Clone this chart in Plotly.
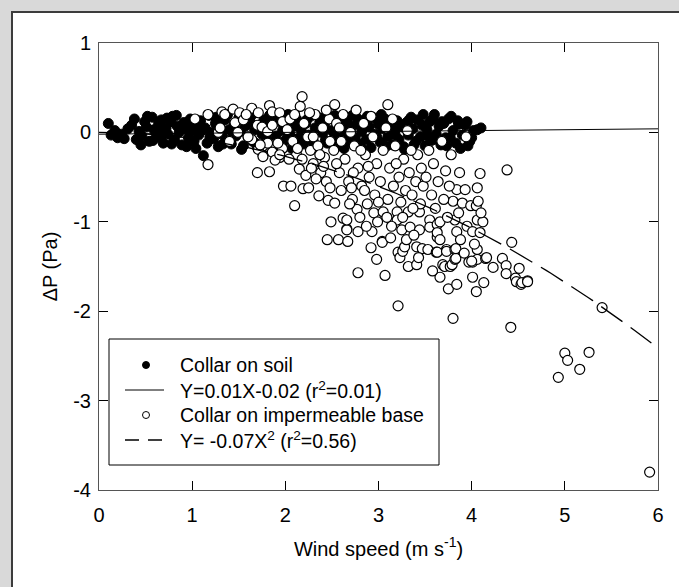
import plotly.graph_objects as go

# ---------------- data ----------------
soil_x = [0.10,0.13,0.17,0.20,0.24,0.27,0.31,0.35,0.38,0.40,0.43,0.46,0.49,0.51,0.54,0.57,0.59,0.62,0.64,0.67,
          0.69,0.72,0.74,0.77,0.79,0.81,0.84,0.86,0.89,0.91,0.93,0.96,0.98,1.00,1.02,1.05,1.07,1.09,1.12,1.14,
          1.16,1.18,1.21,1.23,1.25,1.28,1.30,1.32,1.35,1.37,1.40,1.42,1.45,1.47,1.50,1.52,1.55,1.57,1.60,1.62,
          1.65,1.67,1.70,1.72,1.75,1.77,1.80,1.82,1.85,1.87,1.90,1.92,1.95,1.97,2.00,2.02,2.05,2.07,2.10,2.12,
          2.15,2.17,2.20,2.22,2.25,2.27,2.30,2.32,2.35,2.37,2.40,2.42,2.45,2.47,2.50,2.52,2.55,2.57,2.60,2.62,
          2.65,2.67,2.70,2.72,2.75,2.77,2.80,2.82,2.85,2.87,2.90,2.92,2.95,2.97,3.00,3.02,3.05,3.07,3.10,3.12,
          3.15,3.17,3.20,3.22,3.25,3.27,3.30,3.32,3.35,3.37,3.40,3.42,3.45,3.47,3.50,3.52,3.55,3.57,3.60,3.62,
          3.65,3.67,3.70,3.72,3.75,3.77,3.80,3.83,3.86,3.90,3.93,3.96,3.98,4.02,4.06,4.10,
          0.45,0.52,0.58,0.63,0.68,0.73,0.78,0.83,0.88,0.94,0.99,1.04,1.10,1.19,1.26,1.33,1.38,1.44,1.53,1.58,
          1.63,1.68,1.78,1.83,1.88,1.98,2.03,2.08,2.13,2.18,2.23,2.28,2.38,2.43,2.53,2.58,2.63,2.68,2.78,2.83,
          2.88,2.98,3.03,3.08,3.13,3.18,3.28,3.33,3.38,3.48,3.53,3.58,3.63,3.68,3.73,3.78,3.85,3.88,3.95,4.00]
soil_y = [0.10,-0.03,0.02,-0.06,-0.02,-0.07,0.04,0.08,0.15,-0.08,0.01,-0.04,0.12,0.06,-0.10,0.17,0.03,-0.05,0.10,0.14,
          -0.12,0.05,-0.02,0.12,0.18,-0.08,0.07,0.00,-0.14,0.11,0.04,-0.06,0.15,0.02,-0.10,0.08,-0.03,0.13,-0.26,0.05,
          -0.12,0.19,0.00,-0.07,0.10,-0.16,0.06,-0.02,0.14,-0.09,0.03,-0.13,0.09,-0.04,0.16,0.01,-0.15,0.07,-0.05,0.12,
          -0.10,0.03,-0.17,0.08,-0.02,0.14,-0.08,0.05,-0.12,0.10,-0.04,0.17,-0.15,0.02,-0.09,0.12,-0.02,-0.18,0.07,0.15,
          -0.06,0.03,-0.13,0.10,-0.03,0.18,-0.10,0.05,-0.16,0.12,-0.01,0.08,-0.12,0.16,0.02,-0.07,0.11,-0.15,0.06,-0.03,
          0.14,-0.10,0.03,0.19,-0.06,0.09,-0.13,0.01,0.13,-0.08,0.06,-0.17,0.16,-0.02,0.09,-0.11,0.04,0.15,-0.05,0.10,
          -0.14,0.02,0.13,-0.08,0.06,-0.16,0.11,-0.03,0.17,0.04,-0.10,0.14,-0.05,0.08,-0.15,0.03,0.12,-0.09,0.20,-0.02,
          0.07,-0.14,0.10,-0.06,0.15,-0.06,0.02,-0.12,0.09,-0.03,0.08,-0.15,-0.10,0.02,0.03,0.05,
          -0.14,0.18,-0.09,0.05,-0.02,0.16,-0.13,0.19,0.05,-0.16,0.10,-0.18,0.02,-0.05,0.17,-0.13,0.20,-0.01,-0.19,0.13,
          0.18,-0.12,0.04,0.19,-0.16,0.08,0.20,-0.07,-0.14,0.09,0.14,-0.19,0.16,-0.09,0.19,-0.02,-0.18,0.09,0.15,-0.19,
          0.18,-0.05,0.20,-0.16,0.07,-0.03,-0.19,0.14,-0.14,0.20,-0.04,0.15,-0.08,0.12,-0.15,0.18,0.13,-0.18,0.12,-0.06]

base_x = [1.03,1.17,1.17,1.28,1.30,1.32,1.35,1.44,1.46,1.49,1.51,1.40,
          1.55,1.64,1.64,1.70,1.71,1.75,1.81,1.83,1.86,1.86,1.94,1.97,1.70,1.83,1.98,1.76,1.76,1.87,1.97,1.94,1.71,1.76,
          1.86,1.89,1.94,1.92,1.81,1.73,1.60,1.58,
          2.02,2.06,2.10,2.15,2.16,2.18,2.19,2.22,2.25,2.36,2.46,2.49,2.45,2.05,2.08,2.12,2.20,2.24,2.27,2.30,2.32,2.35,
          2.38,2.40,2.42,2.44,2.47,2.48,2.04,2.13,2.26,2.30,2.33,2.41,2.44,2.10,2.18,2.28,2.37,2.48,
          2.53,2.53,2.57,2.62,2.66,2.67,2.66,2.78,2.93,2.66,2.77,2.78,2.92,2.98,2.52,2.55,2.58,2.60,2.62,2.64,2.68,2.70,
          2.72,2.74,2.76,2.78,2.80,2.82,2.84,2.86,2.88,2.90,2.92,2.94,2.96,2.98,2.55,2.60,2.69,2.73,2.81,2.85,2.89,2.95,
          2.99,2.58,2.87,2.71,
          3.04,3.04,3.05,3.07,3.10,3.20,3.20,3.21,3.21,3.23,3.25,3.26,3.28,3.30,3.32,3.32,3.34,3.41,3.41,3.44,3.44,3.02,
          3.05,3.08,3.10,3.12,3.14,3.16,3.18,3.22,3.24,3.27,3.29,3.31,3.33,3.36,3.38,3.40,3.42,3.45,3.47,3.48,3.00,3.13,
          3.19,3.26,3.35,3.43,3.09,3.37,3.46,3.15,
          3.53,3.55,3.55,3.62,3.63,3.63,3.63,3.63,3.66,3.66,3.66,3.69,3.71,3.72,3.73,3.73,3.75,3.77,3.79,3.80,3.80,3.82,
          3.82,3.82,3.83,3.83,3.84,3.84,3.84,3.90,3.93,3.95,3.99,3.51,3.54,3.57,3.59,3.61,3.64,3.68,3.70,3.74,3.76,3.78,
          3.86,3.88,3.92,3.97,3.58,3.87,3.94,
          4.01,4.01,4.01,4.05,4.05,4.06,4.06,4.06,4.06,4.07,4.09,4.09,4.12,4.13,4.15,4.16,4.00,4.23,4.33,4.37,4.37,4.42,
          4.43,4.47,4.48,4.51,4.53,4.54,4.60,4.60,4.03,4.10,4.38,
          4.93,5.00,5.03,5.16,5.26,5.40,5.91]
base_y = [0.15,0.20,-0.36,0.00,0.05,0.23,0.20,0.26,0.11,0.00,0.22,-0.10,
          0.14,0.27,-0.08,0.08,0.22,0.06,0.01,0.30,0.23,0.08,0.22,0.12,-0.45,-0.44,-0.60,-0.25,-0.15,-0.14,-0.18,-0.28,-0.19,-0.27,
          -0.22,-0.31,-0.25,-0.12,-0.12,-0.14,-0.05,0.20,
          0.03,-0.60,-0.82,-0.41,0.29,0.40,-0.63,-0.48,-0.62,-0.71,-0.76,-1.00,-1.20,0.15,-0.10,-0.25,0.10,-0.05,-0.20,-0.35,0.20,-0.15,
          -0.45,0.05,-0.28,-0.55,0.15,-0.10,-0.30,-0.18,0.22,-0.05,-0.52,-0.38,0.25,0.20,-0.30,-0.40,-0.25,-0.62,
          -0.79,0.31,-1.20,-0.96,-1.08,-1.22,-1.09,-1.11,-1.11,-0.98,-0.86,-1.57,-1.29,-1.42,-0.20,0.10,-0.45,-0.65,0.20,-0.30,-0.55,0.00,
          -0.75,-0.15,0.25,-0.40,-0.95,-0.60,0.10,-0.25,-0.80,-0.50,0.18,-0.05,-0.70,-0.35,-0.35,-0.10,-0.80,-0.45,-0.20,-0.65,-0.38,-0.90,
          -1.00,0.05,-1.05,-0.62,
          -1.22,-1.23,-0.89,-1.60,0.31,-0.89,-0.98,-1.94,-1.34,-1.40,-1.09,-1.33,-1.28,-1.20,-0.89,-1.50,-1.06,-1.28,-1.48,-0.89,-1.09,-0.55,
          -0.20,0.05,-0.75,-0.40,-1.05,-0.60,-0.15,-0.50,-0.78,-0.30,-0.65,0.02,-0.45,-0.70,-1.15,-0.55,-0.25,-0.80,-1.30,-0.60,-0.78,-1.18,
          -0.35,-0.95,-0.20,-1.40,-0.95,-0.85,-0.40,0.15,
          -1.31,-0.98,-1.06,-1.34,-1.34,-1.17,-1.03,-1.12,-1.00,-1.20,-1.62,-1.48,-1.50,-0.43,-1.31,-1.33,-1.75,-1.50,-1.48,-0.77,-2.08,-0.98,
          -1.31,-1.42,-1.41,-1.30,-0.64,-1.11,-1.70,-0.79,-0.64,-1.05,-0.82,-0.50,-0.20,-0.70,-0.35,-0.85,-0.55,-0.10,-0.75,-0.95,-0.60,-0.25,
          -0.90,-1.20,-1.35,-1.45,-1.55,-0.45,-0.05,
          -1.11,-1.45,-1.62,-0.82,-1.78,-0.62,-0.98,-1.31,-1.42,-0.77,-0.46,-1.12,-1.00,-1.68,-1.41,-1.40,-1.44,-1.51,-1.41,-1.49,-1.58,-2.18,
          -1.23,-1.63,-1.67,-1.52,-1.70,-1.68,-1.66,-1.67,-1.25,-0.90,-0.42,
          -2.74,-2.47,-2.55,-2.65,-2.46,-1.96,-3.80]

# regression fits (coefficients as drawn)
lin_slope, lin_icpt = 0.01, -0.02
quad_coef = -0.067
fit_x = [i * 0.05 for i in range(0, 121)]

x_ticks = [0, 1, 2, 3, 4, 5, 6]
x_tick_labels = ["0", "1", "2", "3", "4", "5", "6"]
y_ticks = [1, 0, -1, -2, -3, -4]
y_tick_labels = ["1", "0", "-1", "-2", "-3", "-4"]

legend_labels = ["Collar on soil",
                 "Y=0.01X-0.02 (r<sup>2</sup>=0.01)",
                 "Collar on impermeable base",
                 "Y= -0.07X<sup>2</sup> (r<sup>2</sup>=0.56)"]

FONT = "Liberation Sans, Arial, sans-serif"

fig = go.Figure()
fig.add_trace(go.Scatter(x=soil_x, y=soil_y, mode="markers", showlegend=False,
                         marker=dict(size=10, color="black", line=dict(color="black", width=1))))
fig.add_trace(go.Scatter(x=base_x, y=base_y, mode="markers", showlegend=False,
                         marker=dict(size=10, color="white", line=dict(color="black", width=1.2))))
fig.add_trace(go.Scatter(x=fit_x, y=[lin_slope * v + lin_icpt for v in fit_x], mode="lines",
                         showlegend=False, line=dict(color="black", width=1)))
fig.add_trace(go.Scatter(x=fit_x, y=[quad_coef * v * v for v in fit_x], mode="lines",
                         showlegend=False, line=dict(color="black", width=1.3, dash="26px,10px")))

W, H = 679, 587
ML, MR, MT, MB = 99, 21, 43, 97
pw, ph = W - ML - MR, H - MT - MB

def px(xp):
    return (xp - ML) / pw

def py(yp):
    return 1 - (yp - MT) / ph

# legend layout (pixels)
LG_L, LG_T, LG_R, LG_B = 109, 339, 439, 465
row_y = [365, 390, 415, 440]
sym_cx, sym_x0, sym_x1, text_x = 146, 125, 164, 178

shapes = [dict(type="rect", xref="paper", yref="paper", layer="below",
               x0=px(12), x1=px(700), y0=py(610), y1=py(12),
               fillcolor="white", line=dict(color="#3c3c3c", width=2)),
          dict(type="rect", xref="paper", yref="paper", layer="above",
               x0=px(LG_L), x1=px(LG_R), y0=py(LG_B), y1=py(LG_T),
               fillcolor="white", line=dict(color="black", width=1)),
          dict(type="circle", xref="paper", yref="paper", layer="above",
               xsizemode="pixel", ysizemode="pixel", xanchor=px(sym_cx), yanchor=py(row_y[0]),
               x0=-3.5, x1=3.5, y0=-3.5, y1=3.5, fillcolor="black", line=dict(color="black", width=1)),
          dict(type="line", xref="paper", yref="paper", layer="above",
               x0=px(sym_x0), x1=px(sym_x1), y0=py(row_y[1]), y1=py(row_y[1]),
               line=dict(color="black", width=1)),
          dict(type="circle", xref="paper", yref="paper", layer="above",
               xsizemode="pixel", ysizemode="pixel", xanchor=px(sym_cx), yanchor=py(row_y[2]),
               x0=-3.5, x1=3.5, y0=-3.5, y1=3.5, fillcolor="white", line=dict(color="black", width=1)),
          dict(type="line", xref="paper", yref="paper", layer="above",
               x0=px(sym_x0), x1=px(sym_x1), y0=py(row_y[3]), y1=py(row_y[3]),
               line=dict(color="black", width=1.3, dash="14px,9px"))]

annotations = [dict(text=t, xref="paper", yref="paper", x=px(text_x), y=py(yy),
                    xanchor="left", yanchor="middle", showarrow=False,
                    font=dict(family=FONT, size=19.5, color="black"))
               for t, yy in zip(legend_labels, row_y)]

fig.update_layout(
    width=W, height=H,
    margin=dict(l=ML, r=MR, t=MT, b=MB),
    paper_bgcolor="#d9d9d9",
    plot_bgcolor="white",
    font=dict(family=FONT, size=19, color="black"),
    shapes=shapes,
    annotations=annotations,
    showlegend=False,
    xaxis=dict(range=[0, 6], tickvals=x_ticks, ticktext=x_tick_labels, ticks="inside", ticklen=9,
               tickcolor="black", showline=True, linecolor="#555555", linewidth=1, mirror="ticks",
               showgrid=False, zeroline=False, tickfont=dict(size=20), ticklabelstandoff=7,
               title=dict(text="Wind speed (m s<sup>-1</sup>)", font=dict(size=20), standoff=16)),
    yaxis=dict(range=[-4, 1], tickvals=y_ticks, ticktext=y_tick_labels, ticks="inside", ticklen=9,
               tickcolor="black", showline=True, linecolor="#555555", linewidth=1, mirror="ticks",
               showgrid=False, zeroline=False, tickfont=dict(size=20), ticklabelstandoff=3,
               title=dict(text="ΔP (Pa)", font=dict(size=20), standoff=10)),
)

fig.write_html("out.html")
